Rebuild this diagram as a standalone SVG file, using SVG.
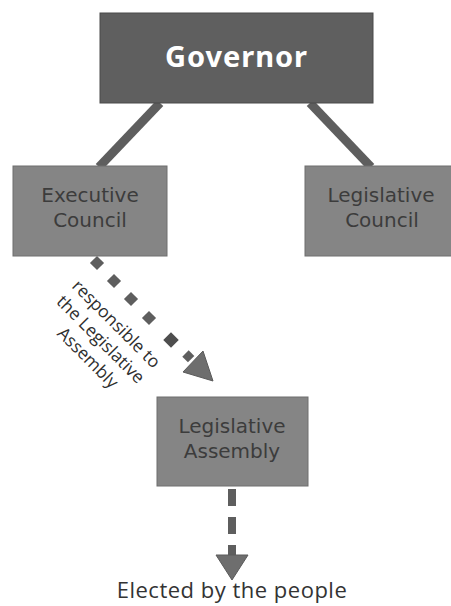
<svg xmlns="http://www.w3.org/2000/svg" width="451" height="606" viewBox="0 0 451 606">
<defs>
<style>
.gov{fill:#5f5f5f;stroke:#4a4a4a;stroke-width:1}
.box{fill:#858585;stroke:#6e6e6e;stroke-width:1}
.lbl{font-family:"DejaVu Sans","Open Sans",sans-serif;font-size:20px;fill:#3c3c3c;text-anchor:middle}
.govt{font-family:"Noto Sans","DejaVu Sans",sans-serif;font-weight:bold;font-size:29px;fill:#ffffff;text-anchor:middle}
.conn{stroke:#5e5e5e;stroke-width:9;fill:none}
.sq{fill:#5e5e5e}
.dash{stroke:#5e5e5e;fill:none}
.head{fill:#6e6e6e;stroke:#5a5a5a;stroke-width:1}
.note{font-family:"Open Sans","Noto Sans",sans-serif;font-size:17.5px;fill:#2e2e2e;text-anchor:middle}
.foot{font-family:"Open Sans","Noto Sans",sans-serif;font-size:22px;letter-spacing:0.5px;fill:#333333;text-anchor:middle}
</style>
</defs>
<rect width="451" height="606" fill="#ffffff"/>
<g id="connectors">
<line class="conn" x1="160" y1="103" x2="99" y2="167"/>
<line class="conn" x1="310" y1="103" x2="371" y2="167"/>
<rect class="sq" x="-5" y="-5" width="10" height="10" transform="translate(97,263) rotate(45)"/>
<rect class="sq" x="-5" y="-5" width="10" height="10" transform="translate(114,281) rotate(45)"/>
<rect class="sq" x="-5" y="-5" width="10" height="10" transform="translate(131,299) rotate(45)"/>
<rect class="sq" x="-5" y="-5" width="10" height="10" transform="translate(149,318) rotate(45)"/>
<rect x="-5.5" y="-5.5" width="11" height="11" fill="#4e4e4e" transform="translate(171,340) rotate(45)"/>
<rect class="sq" x="-5" y="-4.5" width="8" height="9" transform="translate(189,357) rotate(45)"/>
<polygon class="head" points="203,351 213,381 183,372"/>
<line class="dash" x1="232" y1="489" x2="232" y2="556" stroke-width="8" stroke-dasharray="17 11"/>
<polygon class="head" points="216,555 248,555 232,580"/>
<g transform="translate(112,328) rotate(45)">
<text class="note" x="0" y="0">responsible to</text>
<text class="note" x="0" y="22">the Legislative</text>
<text class="note" x="4" y="44">Assembly</text>
</g>
</g>
<g id="governor">
<rect class="gov" x="100" y="13" width="273" height="90"/>
<text class="govt" x="236" y="67" textLength="142" lengthAdjust="spacing">Governor</text>
</g>
<g id="executive-council">
<rect class="box" x="13" y="166" width="154" height="90"/>
<text class="lbl" x="90" y="202">Executive</text>
<text class="lbl" x="90" y="227">Council</text>
</g>
<g id="legislative-council">
<rect class="box" x="305" y="166" width="150" height="90"/>
<text class="lbl" x="381" y="202">Legislative</text>
<text class="lbl" x="382" y="227">Council</text>
</g>
<g id="legislative-assembly">
<rect class="box" x="157" y="397" width="151" height="89"/>
<text class="lbl" x="232" y="433">Legislative</text>
<text class="lbl" x="232" y="458">Assembly</text>
</g>
<g id="elected">
<text class="foot" x="232" y="598">Elected by the people</text>
</g>
</svg>
